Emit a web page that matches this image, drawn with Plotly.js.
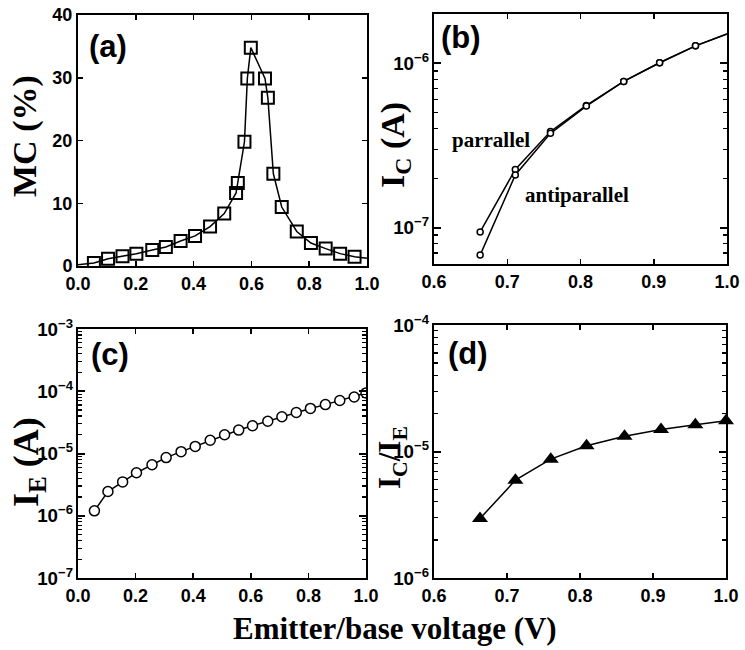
<!DOCTYPE html>
<html>
<head>
<meta charset="utf-8">
<script src="https://cdn.plot.ly/plotly-3.0.1.min.js"></script>
<style>html,body{margin:0;padding:0;background:#fff;}#chart{width:745px;height:650px;}</style>
</head>
<body>
<div id="chart"></div>
<script>
// Panel (a): magnetocurrent vs emitter/base voltage
const mcV  = [0.0, 0.055, 0.104, 0.154, 0.202, 0.257, 0.304, 0.355, 0.405, 0.457, 0.506, 0.547, 0.553, 0.576, 0.586, 0.598, 0.647, 0.657, 0.676, 0.705, 0.757, 0.806, 0.857, 0.907, 0.957, 1.0];
const mcPct = [0.2, 0.48, 1.17, 1.54, 1.97, 2.55, 3.03, 3.99, 4.79, 6.28, 8.35, 11.65, 13.24, 19.8, 29.9, 34.8, 29.9, 26.8, 14.7, 9.4, 5.5, 3.67, 2.77, 1.97, 1.49, 1.25];

// Panel (b): collector current, parallel / antiparallel
const icV = [0.663, 0.711, 0.759, 0.808, 0.859, 0.908, 0.957, 1.0];
const icPar = [9.4e-8, 2.26e-7, 3.85e-7, 5.55e-7, 7.77e-7, 1.01e-6, 1.28e-6, 1.51e-6];
const icAnti = [6.8e-8, 2.09e-7, 3.75e-7, 5.5e-7, 7.77e-7, 1.01e-6, 1.28e-6, 1.51e-6];

// Panel (c): emitter current
const ieV = [0.057, 0.104, 0.155, 0.203, 0.257, 0.306, 0.358, 0.407, 0.459, 0.509, 0.558, 0.606, 0.659, 0.708, 0.758, 0.807, 0.859, 0.909, 0.959, 1.0];
const ieA = [1.2e-6, 2.45e-6, 3.5e-6, 4.9e-6, 6.6e-6, 8.6e-6, 1.07e-5, 1.3e-5, 1.63e-5, 2.0e-5, 2.38e-5, 2.79e-5, 3.3e-5, 3.9e-5, 4.56e-5, 5.3e-5, 6.1e-5, 7.1e-5, 8.1e-5, 9.4e-5];

// Panel (d): transfer ratio IC/IE
const ratioV = [0.663, 0.7115, 0.760, 0.809, 0.861, 0.911, 0.958, 1.0];
const ratio = [2.95e-6, 5.93e-6, 8.7e-6, 1.11e-5, 1.32e-5, 1.49e-5, 1.63e-5, 1.75e-5];

const tickFont = {family: 'Liberation Sans, Arial, sans-serif', size: 18, color: '#000', weight: 'bold'};
const logTickFont = {family: 'Liberation Sans, Arial, sans-serif', size: 15, color: '#000', weight: 'bold'};
const serif = 'Liberation Serif, Times New Roman, serif';
const lineC = '#000';

function linAxis(extra) {
  return Object.assign({
    showline: true, mirror: 'ticks', linecolor: lineC, linewidth: 2,
    ticks: 'inside', ticklen: 5, tickwidth: 1.5, tickcolor: lineC,
    showgrid: false, zeroline: false, tickfont: tickFont
  }, extra);
}
function logAxis(extra) {
  return Object.assign({
    type: 'log', showline: true, mirror: 'ticks', linecolor: lineC, linewidth: 2,
    ticks: 'inside', ticklen: 7, tickwidth: 2, tickcolor: lineC,
    dtick: 1, exponentformat: 'power', showexponent: 'all',
    minor: {ticks: 'inside', ticklen: 4, tickwidth: 1.2, tickcolor: lineC, dtick: 'D1', showgrid: false},
    showgrid: false, zeroline: false, tickfont: logTickFont
  }, extra);
}

const traces = [
  // (a)
  {x: mcV, y: mcPct, xaxis: 'x', yaxis: 'y', mode: 'lines', line: {color: lineC, width: 1.5}, showlegend: false, hoverinfo: 'skip'},
  {x: mcV.slice(1, -1), y: mcPct.slice(1, -1), xaxis: 'x', yaxis: 'y', mode: 'markers',
   marker: {symbol: 'square-open', size: 12, color: lineC, line: {width: 2}}, showlegend: false},
  // (b)
  {x: icV, y: icPar, xaxis: 'x2', yaxis: 'y2', mode: 'lines', line: {color: lineC, width: 1.5}, showlegend: false},
  {x: icV, y: icAnti, xaxis: 'x2', yaxis: 'y2', mode: 'lines', line: {color: lineC, width: 1.5}, showlegend: false},
  {x: icV.slice(0, -1), y: icPar.slice(0, -1), xaxis: 'x2', yaxis: 'y2', mode: 'markers',
   marker: {symbol: 'circle', size: 6, color: '#fff', line: {color: lineC, width: 1.5}}, showlegend: false},
  {x: icV.slice(0, -1), y: icAnti.slice(0, -1), xaxis: 'x2', yaxis: 'y2', mode: 'markers',
   marker: {symbol: 'circle', size: 6, color: '#fff', line: {color: lineC, width: 1.5}}, showlegend: false},
  // (c)
  {x: ieV, y: ieA, xaxis: 'x3', yaxis: 'y3', mode: 'lines+markers', line: {color: lineC, width: 1.5},
   marker: {symbol: 'circle', size: 10, color: '#fff', line: {color: lineC, width: 1.5}}, showlegend: false},
  // (d)
  {x: ratioV, y: ratio, xaxis: 'x4', yaxis: 'y4', mode: 'lines+markers', cliponaxis: false, line: {color: lineC, width: 1.5},
   marker: {symbol: 'triangle-up', size: 14, color: lineC}, showlegend: false}
];

const annFontLbl = {family: 'Liberation Sans, Arial, sans-serif', size: 31, color: '#000', weight: 'bold'};
function tf(size) { return {family: serif, size: size, color: '#000', weight: 'bold'}; }

function ann(text, x, y, font, angle) {
  return {text: text, x: x, y: y, xref: 'paper', yref: 'paper', showarrow: false,
          xanchor: 'center', yanchor: 'middle', font: font, textangle: angle || 0};
}
function px(x) { return x / 745; }
function py(y) { return 1 - y / 650; }

const rangeB = [Math.log10(6e-8), Math.log10(2e-6)];

const layout = {
  width: 745, height: 650,
  margin: {l: 0, r: 0, t: 0, b: 0},
  paper_bgcolor: '#fff', plot_bgcolor: '#fff',
  showlegend: false,
  xaxis: linAxis({domain: [px(78), px(367)], range: [0, 1], dtick: 0.2, tickformat: '.1f', anchor: 'y'}),
  yaxis: linAxis({domain: [py(266), py(15)], range: [0, 40], dtick: 10, anchor: 'x'}),
  xaxis2: linAxis({domain: [px(434), px(727)], range: [0.6, 1.0], dtick: 0.1, tickformat: '.1f', anchor: 'y2'}),
  yaxis2: logAxis({domain: [py(264), py(14)], range: rangeB, anchor: 'x2'}),
  xaxis3: linAxis({domain: [px(78), px(366)], range: [0, 1], dtick: 0.2, tickformat: '.1f', anchor: 'y3'}),
  yaxis3: logAxis({domain: [py(578), py(329)], range: [-7, -3], anchor: 'x3'}),
  xaxis4: linAxis({domain: [px(434), px(726)], range: [0.6, 1.0], dtick: 0.1, tickformat: '.1f', anchor: 'y4'}),
  yaxis4: logAxis({domain: [py(578), py(325)], range: [-6, -4], anchor: 'x4'}),
  annotations: [
    ann('(a)', px(108), py(47), annFontLbl),
    ann('(b)', px(461), py(37), annFontLbl),
    ann('(c)', px(110), py(355), annFontLbl),
    ann('(d)', px(468), py(353), annFontLbl),
    ann('MC (%)', px(25), py(136), tf(34), -90),
    ann('I<sub>C</sub> (A)', px(395), py(145), tf(34), -90),
    ann('I<sub>E</sub> (A)', px(28), py(462), tf(36), -90),
    ann('I<sub>C</sub>/I<sub>E</sub>', px(392), py(458), tf(31), -90),
    ann('Emitter/base voltage (V)', px(395), py(628), tf(31)),
    ann('parrallel', px(491), py(140), tf(21)),
    ann('antiparallel', px(577), py(195), tf(21))
  ]
};

Plotly.newPlot('chart', traces, layout, {displayModeBar: false, staticPlot: true});
</script>
</body>
</html>
